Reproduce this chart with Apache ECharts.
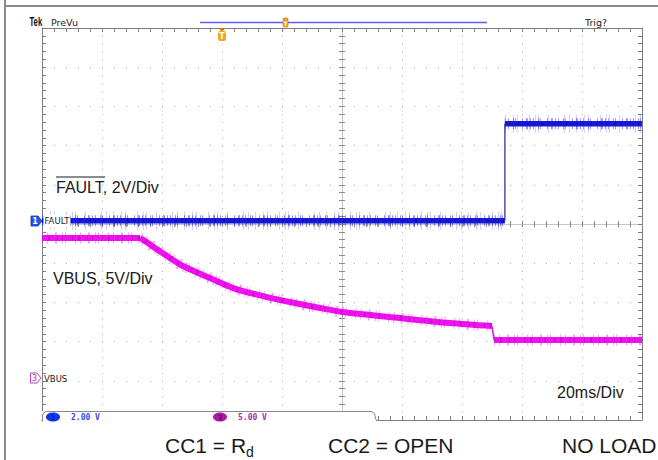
<!DOCTYPE html>
<html><head><meta charset="utf-8">
<script src="https://cdn.jsdelivr.net/npm/echarts@6/dist/echarts.min.js"></script>
<style>html,body{margin:0;padding:0;background:#fff;}#c{width:658px;height:460px;}</style>
</head><body><div id="c"></div>
<script>
// ---- scope settings ----
const msPerDiv = 20;
const timeRangeMs = [-100, 100];      // screen centre = 0 ms
const divRange = [-5, 5];
const ch1VoltsPerDiv = 2;             // FAULT
const ch1OffsetDiv = 0.08;
const ch3VoltsPerDiv = 5;             // VBUS
const ch3OffsetDiv = -3.93;

// ---- FAULT (ch1) ----
const faultTimeMs = [-100, 54.3, 54.3, 100];
const faultVolts  = [0, 0, 4.95, 4.95];

// ---- VBUS (ch3) ----
const vbusTimeMs = [-100, -67.3, -66.7, -58.3, -53.0, -44.0, -36.3, -25.0, -14.0, -7.3, 0.3, 19.3, 36.0, 50.0, 50.7, 100];
const vbusVolts  = [17.86, 17.86, 17.73, 15.56, 14.29, 12.76, 11.48, 10.33, 9.44, 8.93, 8.42, 7.65, 7.02, 6.63, 4.85, 4.85];

// ---- texts ----
const faultLabel = 'FAULT, 2V/Div';
const vbusLabel = 'VBUS, 5V/Div';
const timeLabel = '20ms/Div';
const ch1Readout = '2.00 V';
const ch3Readout = '5.00 V';

const pts = (t, v, a, b) => t.slice(a, b + 1).map((x, i) => [x, v[a + i]]);

const gridColor = '#a9a9a9';
const borderColor = '#7e7e7e';
const centerColor = '#c6c6c6';

function xAx(pos, opts) {
  return Object.assign({
    type: 'value', min: timeRangeMs[0], max: timeRangeMs[1], interval: msPerDiv, position: pos,
    axisLine: { show: true, onZero: false, lineStyle: { color: borderColor, width: 1 } },
    axisTick: { show: true, inside: true, length: 4, lineStyle: { color: borderColor } },
    minorTick: { show: true, splitNumber: 5, length: 4, lineStyle: { color: borderColor } },
    axisLabel: { show: false }, splitLine: { show: false }
  }, opts);
}
function yAx(pos, opts) {
  return Object.assign({
    type: 'value', min: divRange[0], max: divRange[1], interval: 1, position: pos,
    axisLine: { show: true, onZero: false, lineStyle: { color: borderColor, width: 1 } },
    axisTick: { show: true, inside: true, length: 4, lineStyle: { color: borderColor } },
    minorTick: { show: true, splitNumber: 5, length: 4, lineStyle: { color: borderColor } },
    axisLabel: { show: false }, splitLine: { show: false }
  }, opts);
}
const centerLine = (inside) => ({
  axisLine: { show: true, onZero: true, onZeroAxisIndex: 0, lineStyle: { color: centerColor, width: 1 } },
  axisTick: { show: true, inside: inside, length: 3, lineStyle: { color: '#8a8a8a' } },
  minorTick: { show: true, splitNumber: 5, length: 3, lineStyle: { color: '#8a8a8a' } }
});

function ser(data, yIdx, lineStyle, extra) {
  return Object.assign({ type: 'line', xAxisIndex: 0, yAxisIndex: yIdx, data: data, symbol: 'none',
    silent: true, animation: false, lineStyle: Object.assign({ cap: 'butt', join: 'round' }, lineStyle) }, extra || {});
}

const faultLow = pts(faultTimeMs, faultVolts, 0, 1);
const faultEdge = pts(faultTimeMs, faultVolts, 1, 2);
const faultHigh = pts(faultTimeMs, faultVolts, 2, 3);
const vbusFlat = pts(vbusTimeMs, vbusVolts, 0, 1);
const vbusDecay = pts(vbusTimeMs, vbusVolts, 1, 13);
const vbusEdge = pts(vbusTimeMs, vbusVolts, 13, 14);
const vbusAfter = pts(vbusTimeMs, vbusVolts, 14, 15);

const blueHaloA = { color: '#5a5af4', width: 18, opacity: 0.3, type: [1, 7, 1, 3, 1, 11, 1, 5, 1, 2, 1, 9, 1, 15, 1, 4, 1, 6] };
const blueHaloB = { color: '#2a2ae8', width: 11, opacity: 0.5, type: [1, 2, 1, 4, 1, 1, 1, 6, 1, 3, 2, 2] };
const blueCore = { color: '#1818da', width: 5.5 };
const blueSpeck = { color: '#00007a', width: 3, opacity: 0.35, type: [1, 4, 1, 7, 2, 5, 1, 3] };
const magHalo = { color: '#c424c4', width: 11, opacity: 0.4, type: [1, 4, 1, 7, 2, 5, 1, 2, 1, 9] };
const magCore = { color: '#f010f0', width: 6 };
const magSpeck = { color: '#8a008a', width: 5, opacity: 0.3, type: [1, 5, 2, 7, 1, 4, 1, 9] };

const series = [];
[faultLow, faultHigh].forEach(d => {
  series.push(ser(d, 4, blueHaloA), ser(d, 4, blueHaloB), ser(d, 4, blueCore), ser(d, 4, blueSpeck));
});
series.push(ser(faultEdge, 4, { color: '#34348c', width: 1.3 }));
[vbusFlat, vbusAfter].forEach(d => {
  series.push(ser(d, 5, magHalo), ser(d, 5, magCore), ser(d, 5, magSpeck));
});
[magHalo, magCore, magSpeck].forEach(s => series.push(ser(vbusDecay, 5, s, { smooth: 0.3 })));
series.push(ser(vbusEdge, 5, { color: '#e020e0', width: 1.6 }));

const T = (text, x, y, font, fill, extra) => ({
  type: 'text', x: x, y: y, z: 110, silent: true,
  style: Object.assign({ text: text, font: font, fill: fill, align: 'left', textAlign: 'left',
    verticalAlign: 'middle', textVerticalAlign: 'middle' }, extra || {})
});

const graphic = [
  // outer frame
  { type: 'line', z: 100, shape: { x1: 5, y1: 0, x2: 5, y2: 460 }, style: { stroke: '#8c8c8c', lineWidth: 2 } },
  { type: 'line', z: 100, shape: { x1: 5, y1: 6, x2: 658, y2: 6 }, style: { stroke: '#8c8c8c', lineWidth: 2 } },
  // header
  Object.assign(T('Tek', 29.5, 21.5, 'bold 12px "Liberation Sans"', '#111'), { scaleX: 0.64 }),
  T('PreVu', 51, 22.5, '9.5px "DejaVu Sans"', '#222'),
  T('Trig?', 585, 22.5, '9.5px "DejaVu Sans"', '#222'),
  { type: 'line', z: 100, shape: { x1: 200, y1: 22.5, x2: 487, y2: 22.5 }, style: { stroke: '#5c5cf6', lineWidth: 1.3 } },
  { type: 'rect', z: 101, shape: { x: 283, y: 18, width: 5, height: 9, r: 1 }, style: { fill: '#f4a424', stroke: '#c07010', lineWidth: 0.6 } },
  T('T', 285.5, 23, 'bold 6px "DejaVu Sans"', '#fff', { align: 'center', textAlign: 'center' }),
  { type: 'polygon', z: 101, shape: { points: [[218, 28], [226, 28], [222, 31.5]] }, style: { fill: '#d07808' } },
  { type: 'rect', z: 101, shape: { x: 218, y: 31, width: 8, height: 10, r: 2 }, style: { fill: '#f4a424' } },
  T('T', 222, 36.5, 'bold 8px "DejaVu Sans"', '#fff', { align: 'center', textAlign: 'center' }),
  // channel markers
  { type: 'polygon', z: 101, shape: { points: [[31, 216], [38, 216], [42, 221], [38, 226], [31, 226]] }, style: { fill: '#2252f4', stroke: '#1030a0', lineWidth: 0.8 } },
  T('1', 35, 221.5, 'bold 8px "DejaVu Sans"', '#fff', { align: 'center', textAlign: 'center' }),
  T('FAULT', 43.5, 221, '8.5px "DejaVu Sans"', '#222', { backgroundColor: '#fff', padding: [2, 1, 2, 1] }),
  { type: 'polygon', z: 101, shape: { points: [[30.5, 373], [37, 373], [41, 378], [37, 383], [30.5, 383]] }, style: { fill: '#fff', stroke: '#c040c0', lineWidth: 1 } },
  T('3', 34.5, 378.5, '8px "DejaVu Sans"', '#b030b0', { align: 'center', textAlign: 'center' }),
  T('VBUS', 44, 378.5, '8.5px "DejaVu Sans"', '#222'),
  // readout tab
  { type: 'rect', z: 100, shape: { x: 42, y: 411, width: 334, height: 11 }, style: { fill: '#fff' } },
  { type: 'polyline', z: 101, shape: { points: [[42.5, 421.5], [42.5, 415], [44, 412.5], [46.5, 411.5], [371, 411.5], [373.5, 412.5], [375, 415], [375.5, 419], [377, 420.5], [380, 420.5]] }, style: { stroke: '#8a8a8a', lineWidth: 1, fill: null } },
  { type: 'ellipse', z: 101, shape: { cx: 53, cy: 417, rx: 7, ry: 4.5 }, style: { fill: '#1034f4' } },
  T('1', 53, 417.5, '7px "DejaVu Sans"', '#001060', { align: 'center', textAlign: 'center' }),
  T(ch1Readout, 71, 417, 'bold 8px "DejaVu Sans Mono"', '#3848e6'),
  { type: 'ellipse', z: 101, shape: { cx: 220, cy: 417, rx: 7, ry: 4.5 }, style: { fill: '#a81ca8' } },
  T('3', 220, 417.5, '7px "DejaVu Sans"', '#300030', { align: 'center', textAlign: 'center' }),
  T(ch3Readout, 238, 417, 'bold 8px "DejaVu Sans Mono"', '#a430a4'),
  // annotations
  T(faultLabel, 56, 187.5, '16px "Liberation Sans"', '#1a1a1a'),
  { type: 'line', z: 100, shape: { x1: 56, y1: 177, x2: 105, y2: 177 }, style: { stroke: '#1a1a1a', lineWidth: 1.2 } },
  T(vbusLabel, 53, 278, '16px "Liberation Sans"', '#1a1a1a'),
  T(timeLabel, 557, 392.5, '16px "Liberation Sans"', '#1a1a1a'),
  T('CC1 = R', 165, 445.5, '21px "Liberation Sans"', '#1a1a1a'),
  T('d', 246, 452, '14px "Liberation Sans"', '#1a1a1a'),
  T('CC2 = OPEN', 328, 445.5, '21px "Liberation Sans"', '#1a1a1a'),
  T('NO LOAD', 562, 445.5, '21px "Liberation Sans"', '#1a1a1a')
];

const option = {
  animation: false,
  backgroundColor: '#ffffff',
  grid: { left: 42, top: 28, width: 600, height: 392, containLabel: false },
  xAxis: [
    xAx('bottom', { splitLine: { show: true, lineStyle: { color: gridColor, width: 1, type: [1, 6.84] } } }),
    xAx('top', {}),
    xAx('bottom', centerLine(true)),
    xAx('bottom', centerLine(false))
  ],
  yAxis: [
    yAx('left', { splitLine: { show: true, lineStyle: { color: gridColor, width: 1, type: [1, 11] } } }),
    yAx('right', {}),
    yAx('left', centerLine(true)),
    yAx('left', centerLine(false)),
    { type: 'value', show: false, position: 'left', axisLine: { onZero: false },
      min: (divRange[0] - ch1OffsetDiv) * ch1VoltsPerDiv, max: (divRange[1] - ch1OffsetDiv) * ch1VoltsPerDiv },
    { type: 'value', show: false, position: 'left', axisLine: { onZero: false },
      min: (divRange[0] - ch3OffsetDiv) * ch3VoltsPerDiv, max: (divRange[1] - ch3OffsetDiv) * ch3VoltsPerDiv }
  ],
  series: series,
  graphic: graphic
};

const chart = echarts.init(document.getElementById('c'), null, { renderer: 'svg', width: 658, height: 460 });
chart.setOption(option);
</script>
</body></html>
